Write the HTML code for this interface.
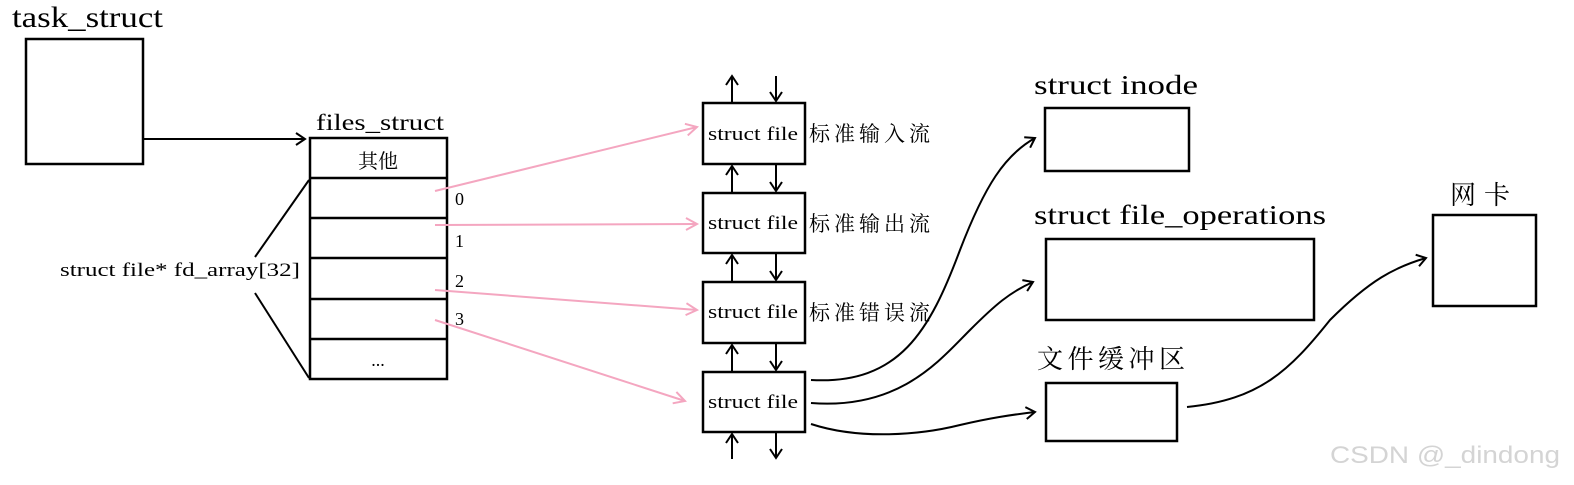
<!DOCTYPE html>
<html><head><meta charset="utf-8"><style>
body{margin:0;background:#fff;width:1574px;height:480px;overflow:hidden}
svg text{font-family:"Liberation Serif","Noto Serif CJK SC",serif}
</style></head><body>
<svg width="1574" height="480" viewBox="0 0 1574 480" xmlns="http://www.w3.org/2000/svg">
<defs>
<marker id="a" markerWidth="14" markerHeight="14" refX="11" refY="7" orient="auto" markerUnits="userSpaceOnUse"><path d="M2,1 L11,7 L2,13" fill="none" stroke="#000" stroke-width="2"/></marker>
<marker id="p" markerWidth="16" markerHeight="14" refX="13" refY="7" orient="auto" markerUnits="userSpaceOnUse"><path d="M2,1 L13,7 L2,13" fill="none" stroke="#f4a6c0" stroke-width="2"/></marker>
</defs>
<g fill="none" stroke="#000" stroke-width="2.5">
<rect x="26" y="39" width="117" height="125"/>
<rect x="310" y="138" width="137" height="241"/>
<line x1="310" y1="178" x2="447" y2="178"/><line x1="310" y1="218" x2="447" y2="218"/>
<line x1="310" y1="258" x2="447" y2="258"/><line x1="310" y1="299" x2="447" y2="299"/>
<line x1="310" y1="339" x2="447" y2="339"/>
<rect x="703" y="103" width="102" height="61"/>
<rect x="703" y="193" width="102" height="60"/>
<rect x="703" y="282" width="102" height="61"/>
<rect x="703" y="372" width="102" height="60"/>
<rect x="1045" y="108" width="144" height="63"/>
<rect x="1046" y="239" width="268" height="81"/>
<rect x="1046" y="383" width="131" height="58"/>
<rect x="1433" y="215" width="103" height="91"/>
</g>
<g fill="none" stroke="#000" stroke-width="2">
<line x1="143" y1="139" x2="305" y2="139" marker-end="url(#a)"/>
<line x1="309" y1="180" x2="255" y2="257"/><line x1="255" y1="293" x2="309" y2="378"/>
<line x1="732" y1="103" x2="732" y2="76" marker-end="url(#a)"/><line x1="776" y1="76" x2="776" y2="101" marker-end="url(#a)"/>
<line x1="732" y1="193" x2="732" y2="166" marker-end="url(#a)"/><line x1="776" y1="164" x2="776" y2="191" marker-end="url(#a)"/>
<line x1="732" y1="282" x2="732" y2="255" marker-end="url(#a)"/><line x1="776" y1="253" x2="776" y2="280" marker-end="url(#a)"/>
<line x1="732" y1="372" x2="732" y2="345" marker-end="url(#a)"/><line x1="776" y1="343" x2="776" y2="370" marker-end="url(#a)"/>
<line x1="732" y1="459" x2="732" y2="434" marker-end="url(#a)"/><line x1="776" y1="432" x2="776" y2="458" marker-end="url(#a)"/>
<path d="M811,380 C900,385 930,330 960,250 C985,185 1005,155 1035,138" marker-end="url(#a)"/>
<path d="M811,403 C900,410 940,360 970,330 C995,305 1010,292 1033,282" marker-end="url(#a)"/>
<path d="M811,424 C860,440 920,435 960,425 C990,418 1010,415 1035,412" marker-end="url(#a)"/>
<path d="M1187,407 C1260,400 1290,370 1330,320 C1370,280 1395,267 1426,258" marker-end="url(#a)"/>
</g>
<g fill="none" stroke="#f4a6c0" stroke-width="2">
<line x1="435" y1="191" x2="697" y2="127" marker-end="url(#p)"/>
<line x1="435" y1="225" x2="697" y2="224" marker-end="url(#p)"/>
<line x1="435" y1="290" x2="697" y2="310" marker-end="url(#p)"/>
<line x1="435" y1="320" x2="685" y2="401" marker-end="url(#p)"/>
</g>
<g fill="#000">
<text x="12" y="27" font-size="30" textLength="151" lengthAdjust="spacingAndGlyphs">task_struct</text>
<text x="316" y="130" font-size="23" textLength="128" lengthAdjust="spacingAndGlyphs">files_struct</text>
<text x="378" y="168" font-size="20" text-anchor="middle">其他</text>
<text x="378" y="366" font-size="18" text-anchor="middle">...</text>
<text x="455" y="205" font-size="18">0</text>
<text x="455" y="247" font-size="18">1</text>
<text x="455" y="287" font-size="18">2</text>
<text x="455" y="325" font-size="18">3</text>
<text x="60" y="276" font-size="19" textLength="240" lengthAdjust="spacingAndGlyphs">struct file* fd_array[32]</text>
<text x="708" y="140" font-size="19" textLength="90" lengthAdjust="spacingAndGlyphs">struct file</text>
<text x="708" y="229" font-size="19" textLength="90" lengthAdjust="spacingAndGlyphs">struct file</text>
<text x="708" y="318" font-size="19" textLength="90" lengthAdjust="spacingAndGlyphs">struct file</text>
<text x="708" y="408" font-size="19" textLength="90" lengthAdjust="spacingAndGlyphs">struct file</text>
<text x="809" y="141" font-size="21" textLength="121" lengthAdjust="spacing">标准输入流</text>
<text x="809" y="231" font-size="21" textLength="121" lengthAdjust="spacing">标准输出流</text>
<text x="809" y="320" font-size="21" textLength="121" lengthAdjust="spacing">标准错误流</text>
<text x="1034" y="94" font-size="27" textLength="164" lengthAdjust="spacingAndGlyphs">struct inode</text>
<text x="1034" y="224" font-size="27" textLength="292" lengthAdjust="spacingAndGlyphs">struct file_operations</text>
<text x="1037" y="368" font-size="26" textLength="148" lengthAdjust="spacing">文件缓冲区</text>
<text x="1450" y="204" font-size="26" textLength="60" lengthAdjust="spacing">网卡</text>
</g>
<text x="1330" y="463" font-size="24" textLength="230" lengthAdjust="spacingAndGlyphs" style="font-family:'Liberation Sans',sans-serif;fill:#d4d4d4">CSDN @_dindong</text>
</svg>
</body></html>
